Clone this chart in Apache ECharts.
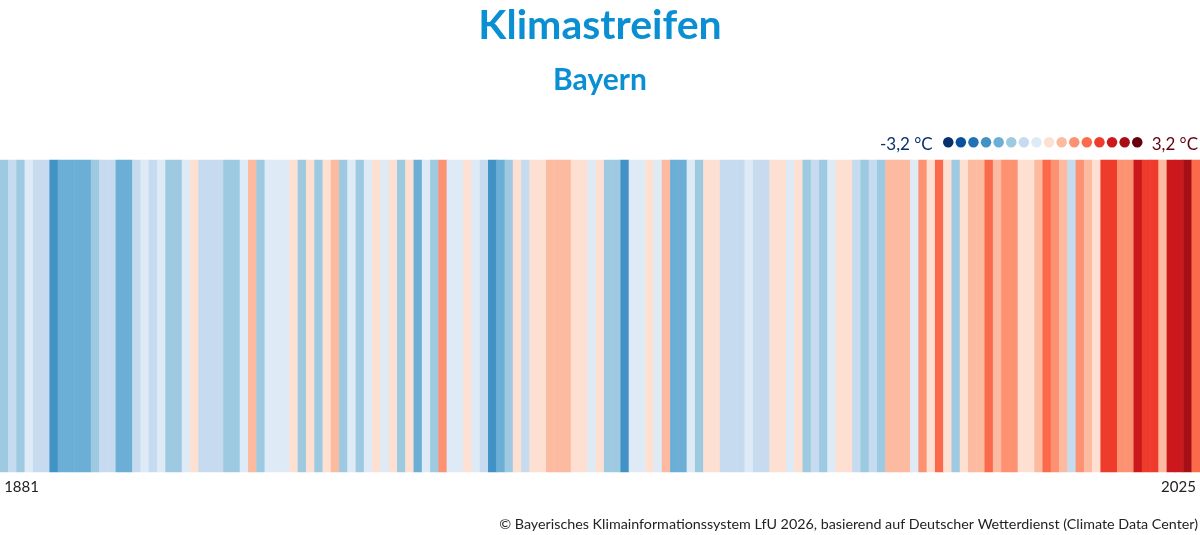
<!DOCTYPE html>
<html>
<head>
<meta charset="utf-8">
<script src="https://cdn.jsdelivr.net/npm/echarts@6/dist/echarts.min.js"></script>
<style>
  html, body { margin: 0; padding: 0; background: #fff; }
  #chart { width: 1200px; height: 535px; }
</style>
</head>
<body>
<div id="chart"></div>
<script>
// Jahre 1881 - 2025
const years = []
for (let y = 1881; y <= 2025; y++) years.push(String(y))

const anomalies = [
  -1.0, -0.6, -1.0, -0.2, -0.6, -0.6, -1.8, -1.4, -1.4, -1.4, -1.4, -1.0, -0.6,
  -0.6, -1.4, -1.4, -0.6, -0.2, -0.6, -0.2, -1.0, -1.0, -0.2, 0.2, -0.6, -0.6,
  -0.6, -1.0, -1.0, -0.2, 0.6, -1.0, -0.2, -0.2, -0.2, 0.2, -1.0, 0.2, -1.0,
  0.2, 0.6, -1.0, -0.2, -1.0, -0.2, 0.2, -0.2, 0.2, -1.0, 0.2, -1.4, -0.2,
  -1.0, 1.0, -0.2, -0.2, 0.2, -0.2, -0.6, -1.8, -1.4, -1.0, 0.2, -0.6, 0.2,
  0.2, 0.6, 0.6, 0.6, 0.2, 0.2, -0.2, 0.2, -1.0, -1.0, -1.8, -0.2, -0.2,
  0.2, -0.2, 0.6, -1.4, -1.4, -0.2, -1.0, 0.2, 0.2, -0.6, -0.6, -0.6, -0.2,
  -0.6, -0.6, 0.2, 0.2, -0.2, 0.2, -1.0, -0.6, -1.0, -0.2, 0.2, 0.2, -0.6,
  -1.0, -0.6, -1.0, 0.6, 0.6, 0.6, -0.2, 1.0, 0.2, 1.4, 0.2, -1.0, 0.2,
  0.6, 0.6, 1.4, 0.6, 1.0, 1.0, 0.2, 0.2, 0.6, 1.4, 1.0, 0.6, -0.6,
  1.0, 0.6, 0.2, 1.8, 1.8, 1.0, 1.0, 2.2, 1.8, 1.8, 0.6, 2.2, 2.2, 2.6, 1.4
]

// Farbskala: 16 Klassen je 0,4 °C von -3,2 bis 3,2
const classBounds = [-3.2, -2.8, -2.4, -2.0, -1.6, -1.2, -0.8, -0.4, 0, 0.4, 0.8, 1.2, 1.6, 2.0, 2.4, 2.8, 3.2]
const classColors = [
  '#08306b', '#08519c', '#2171b5', '#4292c6', '#6baed6', '#9ecae1', '#c6dbef', '#deebf7',
  '#fee0d2', '#fcbba1', '#fc9272', '#fb6a4a', '#ef3b2c', '#cb181d', '#a50f15', '#67000d'
]

const font = 'Lato, "Noto Sans", sans-serif'
const blue = '#0b8fd3'

const pieces = classColors.map((c, i) => ({ gte: classBounds[i], lt: classBounds[i + 1], color: c }))
const heatData = anomalies.map((v, i) => [i, 0, v])

const chart = echarts.init(document.getElementById('chart'))
chart.setOption({
  animation: false,
  title: [
    { text: 'Klimastreifen', left: 'center', top: 5, padding: 0,
      textStyle: { fontFamily: font, fontSize: 41, fontWeight: 'bold', color: blue } },
    { text: 'Bayern', left: 'center', top: 65, padding: 0,
      textStyle: { fontFamily: font, fontSize: 30, fontWeight: 'bold', color: blue } },
    { text: '-3,2 °C', left: 880, top: 136, padding: 0,
      textStyle: { fontFamily: font, fontSize: 17, fontWeight: 'normal', color: '#08306b' } },
    { text: '3,2 °C', right: 2, top: 136, padding: 0,
      textStyle: { fontFamily: font, fontSize: 17, fontWeight: 'normal', color: '#67000d' } },
    { text: '© Bayerisches Klimainformationssystem LfU 2026, basierend auf Deutscher Wetterdienst (Climate Data Center)',
      right: 2, top: 517, padding: 0,
      textStyle: { fontFamily: font, fontSize: 14.3, fontWeight: 'normal', color: '#222' } }
  ],
  visualMap: {
    type: 'piecewise',
    orient: 'horizontal',
    left: 943,
    top: 137,
    pieces: pieces,
    itemSymbol: 'circle',
    itemWidth: 10.5,
    itemHeight: 10.5,
    itemGap: 2.1,
    showLabel: false,
    selectedMode: false,
    padding: 0
  },
  grid: { left: 0, right: 0, top: 160, bottom: 63 },
  xAxis: {
    type: 'category',
    data: years,
    axisLine: { show: false },
    axisTick: { show: false },
    splitLine: { show: false },
    axisLabel: {
      interval: 0,
      formatter: (v, i) => (i === 0 || i === years.length - 1) ? v : '',
      alignMinLabel: 'left',
      alignMaxLabel: 'right',
      margin: 8,
      fontFamily: font,
      fontSize: 15,
      color: '#222'
    }
  },
  yAxis: {
    type: 'category',
    data: [''],
    show: false
  },
  series: [{
    type: 'heatmap',
    data: heatData,
    itemStyle: { borderWidth: 0 },
    emphasis: { disabled: true }
  }]
})
</script>
</body>
</html>
